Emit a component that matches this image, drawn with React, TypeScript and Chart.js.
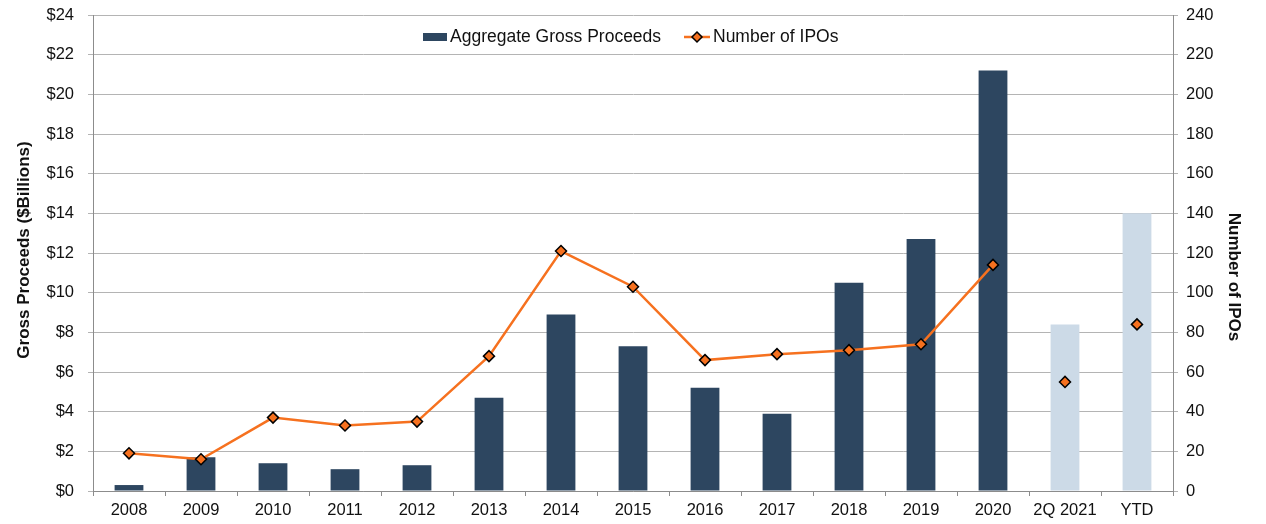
import React, { useEffect, useRef } from "react";
import { Chart, registerables } from "chart.js";

Chart.register(...registerables);

const categories = ["2008", "2009", "2010", "2011", "2012", "2013", "2014", "2015", "2016", "2017", "2018", "2019", "2020", "2Q 2021", "YTD"];
const grossProceeds = [0.3, 1.7, 1.4, 1.1, 1.3, 4.7, 8.9, 7.3, 5.2, 3.9, 10.5, 12.7, 21.2, 8.4, 14.0];
const ipoCountAnnual = [19, 16, 37, 33, 35, 68, 121, 103, 66, 69, 71, 74, 114, null, null];
const ipoCountPartial = [null, null, null, null, null, null, null, null, null, null, null, null, null, 55, 84];
const leftTicks = ["$0", "$2", "$4", "$6", "$8", "$10", "$12", "$14", "$16", "$18", "$20", "$22", "$24"];
const rightTicks = ["0", "20", "40", "60", "80", "100", "120", "140", "160", "180", "200", "220", "240"];

const DARK = "#2D4660";
const LIGHT = "#CCDAE7";
const ORANGE = "#F6711F";
const FONT = "'Liberation Sans', Arial, sans-serif";
const GRID = "#B4B4B4";
const AXIS = "#8C8C8C";
const TICK_SIZE = 16.5;

const overlayPlugin = {
  id: "overlay",
  afterDraw(chart: any) {
    const ctx = chart.ctx;
    const area = chart.chartArea;
    ctx.save();
    // legend
    const cy = 37;
    ctx.font = `17.5px ${FONT}`;
    ctx.textBaseline = "middle";
    ctx.fillStyle = DARK;
    ctx.fillRect(423, cy - 4, 24, 8);
    ctx.fillStyle = "#111";
    ctx.textAlign = "left";
    ctx.fillText("Aggregate Gross Proceeds", 450, cy);
    ctx.strokeStyle = ORANGE;
    ctx.lineWidth = 2.5;
    ctx.beginPath();
    ctx.moveTo(684, cy);
    ctx.lineTo(710, cy);
    ctx.stroke();
    ctx.beginPath();
    const r = 5;
    ctx.moveTo(697, cy - r);
    ctx.lineTo(697 + r, cy);
    ctx.lineTo(697, cy + r);
    ctx.lineTo(697 - r, cy);
    ctx.closePath();
    ctx.fillStyle = ORANGE;
    ctx.fill();
    ctx.strokeStyle = "#000";
    ctx.lineWidth = 1.5;
    ctx.stroke();
    ctx.fillStyle = "#111";
    ctx.fillText("Number of IPOs", 713, cy);
    // axis titles
    ctx.font = `bold 17px ${FONT}`;
    ctx.textAlign = "center";
    ctx.fillStyle = "#111";
    const mid = (area.top + area.bottom) / 2;
    ctx.save();
    ctx.translate(24, mid - 3);
    ctx.rotate(-Math.PI / 2);
    ctx.fillText("Gross Proceeds ($Billions)", 0, 0);
    ctx.restore();
    ctx.save();
    ctx.translate(1234, mid + 24);
    ctx.rotate(Math.PI / 2);
    ctx.fillText("Number of IPOs", 0, 0);
    ctx.restore();
    ctx.restore();
  },
};

const fitVertical = (s: any) => {
  s.width = 93;
  s.paddingTop = 0;
  s.paddingBottom = 0;
};

export default function App() {
  const ref = useRef<HTMLCanvasElement>(null);
  useEffect(() => {
    document.body.style.margin = "0";
    const barColors = categories.map((c) => (c === "2Q 2021" || c === "YTD" ? LIGHT : DARK));
    const chart = new Chart(ref.current as HTMLCanvasElement, {
      type: "bar",
      data: {
        labels: categories,
        datasets: [
          {
            type: "line",
            label: "Number of IPOs",
            data: ipoCountAnnual,
            yAxisID: "y2",
            borderColor: ORANGE,
            borderWidth: 2.5,
            backgroundColor: ORANGE,
            pointStyle: "rectRot",
            pointRadius: 5.5,
            pointBorderColor: "#000",
            pointBorderWidth: 1.5,
            pointBackgroundColor: ORANGE,
            spanGaps: false,
            order: 0,
          } as any,
          {
            type: "line",
            label: "Number of IPOs (partial)",
            data: ipoCountPartial,
            yAxisID: "y2",
            showLine: false,
            borderColor: ORANGE,
            pointStyle: "rectRot",
            pointRadius: 5.5,
            pointBorderColor: "#000",
            pointBorderWidth: 1.5,
            pointBackgroundColor: ORANGE,
            order: 0,
          } as any,
          {
            type: "bar",
            label: "Aggregate Gross Proceeds",
            data: grossProceeds,
            yAxisID: "y",
            backgroundColor: barColors,
            barPercentage: 0.4,
            categoryPercentage: 1,
            order: 1,
          },
        ],
      },
      options: {
        responsive: false,
        animation: false,
        layout: { padding: { top: 15, left: 0, right: 0, bottom: 0 } },
        plugins: { legend: { display: false }, tooltip: { enabled: false } },
        font: { family: FONT },
        scales: {
          x: {
            offset: true,
            grid: { offset: true, drawOnChartArea: false, tickLength: 5, color: AXIS },
            border: { color: AXIS },
            ticks: { font: { family: FONT, size: TICK_SIZE }, color: "#111", padding: 5, maxRotation: 0 },
            afterFit: (s: any) => { s.height = 33; s.paddingLeft = 0; s.paddingRight = 0; },
          },
          y: {
            position: "left",
            min: 0,
            max: 24,
            ticks: {
              stepSize: 2,
              font: { family: FONT, size: TICK_SIZE },
              color: "#111",
              padding: 14,
              callback: (_v: any, i: number) => leftTicks[i],
            },
            grid: { color: GRID, tickLength: 5 },
            border: { color: AXIS },
            afterFit: fitVertical,
          },
          y2: {
            position: "right",
            min: 0,
            max: 240,
            ticks: {
              stepSize: 20,
              font: { family: FONT, size: TICK_SIZE },
              color: "#111",
              padding: 8,
              callback: (_v: any, i: number) => rightTicks[i],
            },
            grid: { drawOnChartArea: false, color: GRID, tickLength: 5 },
            border: { color: AXIS },
            afterFit: fitVertical,
          },
        },
      } as any,
      plugins: [overlayPlugin],
    });
    return () => chart.destroy();
  }, []);
  return (
    <div style={{ width: 1266, height: 524 }}>
      <canvas ref={ref} width={1266} height={524} />
    </div>
  );
}
